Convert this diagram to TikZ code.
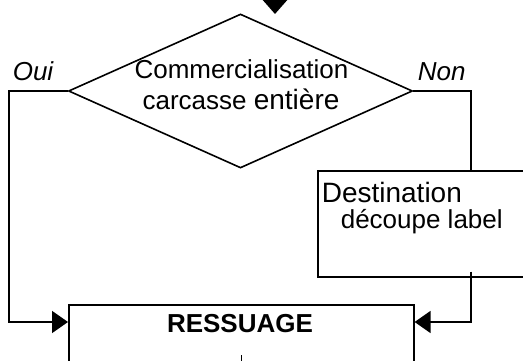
\documentclass[tikz,border=0pt]{standalone}
\usepackage{fontspec}
\setmainfont{Liberation Sans}
\usetikzlibrary{shapes.geometric,arrows.meta,calc}
\begin{document}
\begin{tikzpicture}[x=1pt,y=-1pt,line width=1.6pt,
  box/.style={draw,rectangle,inner sep=0pt},
  tipside/.style={-{Triangle[length=16pt,width=22pt]}},
  tiptop/.style={-{Triangle[length=15pt,width=26pt]}},
  txt/.style={inner sep=0pt,font=\fontsize{26}{30}\selectfont},
  txtbig/.style={inner sep=0pt,font=\fontsize{28}{32}\selectfont},
  oui/.style={inner sep=0pt,font=\fontsize{26}{30}\selectfont\itshape}]
\useasboundingbox (0,0) rectangle (523,361);
\clip (0,0) rectangle (523,361);
% shapes
\node[draw,diamond,minimum width=344pt,minimum height=154pt,inner sep=0pt] (dia) at (240.5,91) {};
\node[box,minimum width=345pt,minimum height=116pt,anchor=north west] (ress) at (68,304) {};
\node[box,minimum width=240pt,minimum height=106pt,anchor=north west] (dest) at (317,170) {};
% texts
\node[txt,anchor=base] (t1) at (241.5,79) {Commercialisation};
\node[txt,anchor=base] (t2) at (241,110) {carcasse {\fontsize{28}{32}\selectfont entière}};
\node[oui,anchor=base west] (oui) at (12,81) {Oui};
\node[oui,anchor=base west] (non) at (417,81) {Non};
\node[txtbig,anchor=base west] (d1) at (321,202) {Destination};
\node[txt,anchor=base west] (d2) at (340,228) {découpe label};
\node[txt,anchor=base,font=\fontsize{26}{30}\selectfont\bfseries] (rt) at (240,332) {RESSUAGE};
% connectors
\coordinate (src) at (275,-40);
\coordinate (tipin) at (275,14);
\draw[tiptop] (src) -- (tipin);
\draw[tipside] (dia.west) -- ++(-59,0) |- ($(ress.north west)+(0,18)$);
\draw (dia.east) -| ($(dest.north west)+(154,0)$);
\draw[tipside] ($(dest.south west)+(154,-6)$) |- ($(ress.north east)+(0,18)$);
\coordinate (tk1) at ($(ress.north)+(0,51)$);
\coordinate (tk2) at ($(ress.north)+(0,70)$);
\draw (tk1) -- (tk2);
\end{tikzpicture}
\end{document}
